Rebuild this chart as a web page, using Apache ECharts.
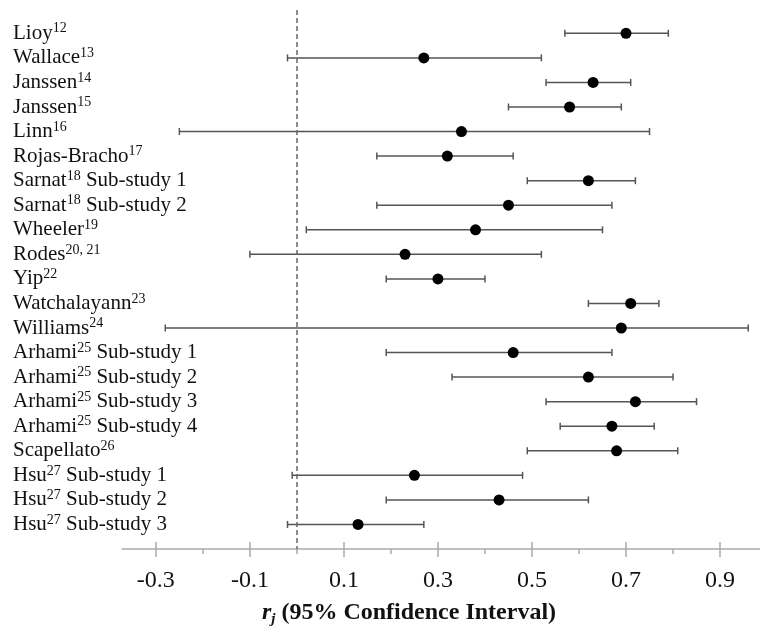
<!DOCTYPE html>
<html>
<head>
<meta charset="utf-8">
<script src="https://cdn.jsdelivr.net/npm/echarts@6/dist/echarts.min.js"></script>
<style>
    html, body {margin: 0; padding: 0; background: #fff;}
    #chart {width: 760px; height: 639px;}
</style>
</head>
<body>
<div id="chart"></div>
<script>
// study names + reference superscripts
const studyNames = ["Lioy", "Wallace", "Janssen", "Janssen", "Linn", "Rojas-Bracho", "Sarnat", "Sarnat", "Wheeler", "Rodes",
    "Yip", "Watchalayann", "Williams", "Arhami", "Arhami", "Arhami", "Arhami", "Scapellato", "Hsu", "Hsu", "Hsu"];
const studyRefs = ["12", "13", "14", "15", "16", "17", "18", "18", "19", "20, 21",
    "22", "23", "24", "25", "25", "25", "25", "26", "27", "27", "27"];
const studySuffix = ["", "", "", "", "", "", " Sub-study 1", " Sub-study 2", "", "",
    "", "", "", " Sub-study 1", " Sub-study 2", " Sub-study 3", " Sub-study 4", "", " Sub-study 1", " Sub-study 2", " Sub-study 3"];

// r_j point estimate and 95% CI
const rEstimate = [0.70, 0.27, 0.63, 0.58, 0.35, 0.32, 0.62, 0.45, 0.38, 0.23,
    0.30, 0.71, 0.69, 0.46, 0.62, 0.72, 0.67, 0.68, 0.25, 0.43, 0.13];
const ciLow = [0.57, -0.02, 0.53, 0.45, -0.25, 0.17, 0.49, 0.17, 0.02, -0.10,
    0.19, 0.62, -0.28, 0.19, 0.33, 0.53, 0.56, 0.49, -0.01, 0.19, -0.02];
const ciHigh = [0.79, 0.52, 0.71, 0.69, 0.75, 0.46, 0.72, 0.67, 0.65, 0.52,
    0.40, 0.77, 0.96, 0.67, 0.80, 0.85, 0.76, 0.81, 0.48, 0.62, 0.27];

const majorTicks = [-0.3, -0.1, 0.1, 0.3, 0.5, 0.7, 0.9];
const minorTicks = [-0.2, 0, 0.2, 0.4, 0.6, 0.8];

const serif = "'Liberation Serif', 'Times New Roman', serif";
const rowIdx = studyNames.map((n, i) => i);

let barData = rowIdx.map(i => [i, ciLow[i], ciHigh[i]]);
let dotData = rowIdx.map(i => [rEstimate[i], i]);

let chart = echarts.init(document.getElementById("chart"));

function renderBar(params, api) {
    let y = api.value(0);
    let p1 = api.coord([api.value(1), y]);
    let p2 = api.coord([api.value(2), y]);
    let h = 3.5;
    let style = {stroke: "#555", lineWidth: 1.5};
    return {
        type: "group",
        children: [
            {type: "line", shape: {x1: p1[0], y1: p1[1], x2: p2[0], y2: p2[1]}, style: style},
            {type: "line", shape: {x1: p1[0], y1: p1[1] - h, x2: p1[0], y2: p1[1] + h}, style: style},
            {type: "line", shape: {x1: p2[0], y1: p2[1] - h, x2: p2[0], y2: p2[1] + h}, style: style}
        ]
    };
}

const xMin = -0.372, xMax = 0.985;

let option = {
    backgroundColor: "#fff",
    animation: false,
    grid: {left: 122, right: 0, top: 10, bottom: 90},
    xAxis: [
        {
            type: "value", min: xMin, max: xMax, position: "bottom",
            axisLine: {show: true, onZero: false, lineStyle: {color: "#aaa", width: 1.5}},
            axisTick: {show: true, customValues: majorTicks, length: 8, lineStyle: {color: "#aaa", width: 1.5}},
            axisLabel: {
                customValues: majorTicks, margin: 20,
                fontFamily: serif, fontSize: 24, color: "#111",
                formatter: v => v.toFixed(1)
            },
            splitLine: {show: false},
            name: "{r|r}{j|j}{b| (95% Confidence Interval)}",
            nameLocation: "middle",
            nameGap: 50,
            nameTextStyle: {
                padding: [0, 64, 0, 0],
                rich: {
                    r: {fontFamily: serif, fontSize: 24, fontWeight: "bold", fontStyle: "italic", color: "#111", lineHeight: 28},
                    j: {fontFamily: serif, fontSize: 15, fontWeight: "bold", fontStyle: "italic", color: "#111", lineHeight: 12, verticalAlign: "bottom"},
                    b: {fontFamily: serif, fontSize: 24, fontWeight: "bold", color: "#111", lineHeight: 28}
                }
            }
        },
        {
            // major ticks poke above the line
            type: "value", min: xMin, max: xMax, position: "bottom",
            axisLine: {show: false, onZero: false},
            axisTick: {show: true, inside: true, customValues: majorTicks, length: 7, lineStyle: {color: "#aaa", width: 1.5}},
            axisLabel: {show: false},
            splitLine: {show: false}
        },
        {
            type: "value", min: xMin, max: xMax, position: "bottom",
            axisLine: {show: false, onZero: false},
            axisTick: {show: true, customValues: minorTicks, length: 5, lineStyle: {color: "#aaa", width: 1.5}},
            axisLabel: {show: false},
            splitLine: {show: false}
        }
    ],
    yAxis: {
        type: "value", inverse: true, min: -0.95, max: 21,
        axisLine: {show: false},
        axisTick: {show: false},
        splitLine: {show: false},
        axisLabel: {
            customValues: rowIdx,
            align: "left",
            margin: 109,
            formatter: function (v) {
                let i = Math.round(v);
                let s = "{n|" + studyNames[i] + "}{s|" + studyRefs[i] + "}";
                if (studySuffix[i]) s += "{n|" + studySuffix[i] + "}";
                return s;
            },
            rich: {
                n: {fontFamily: serif, fontSize: 21, color: "#111", lineHeight: 23},
                s: {fontFamily: serif, fontSize: 14, color: "#111", lineHeight: 14, verticalAlign: "top"}
            }
        }
    },
    series: [
        {
            type: "custom",
            renderItem: renderBar,
            encode: {x: [1, 2], y: 0},
            data: barData,
            silent: true,
            markLine: {
                silent: true,
                symbol: "none",
                label: {show: false},
                lineStyle: {color: "#666", type: [5, 3], width: 1.5},
                data: [{xAxis: 0}]
            }
        },
        {
            type: "scatter",
            data: dotData,
            symbol: "circle",
            symbolSize: 11,
            itemStyle: {color: "#000", opacity: 1},
            silent: true
        }
    ]
};

chart.setOption(option);
</script>
</body>
</html>
